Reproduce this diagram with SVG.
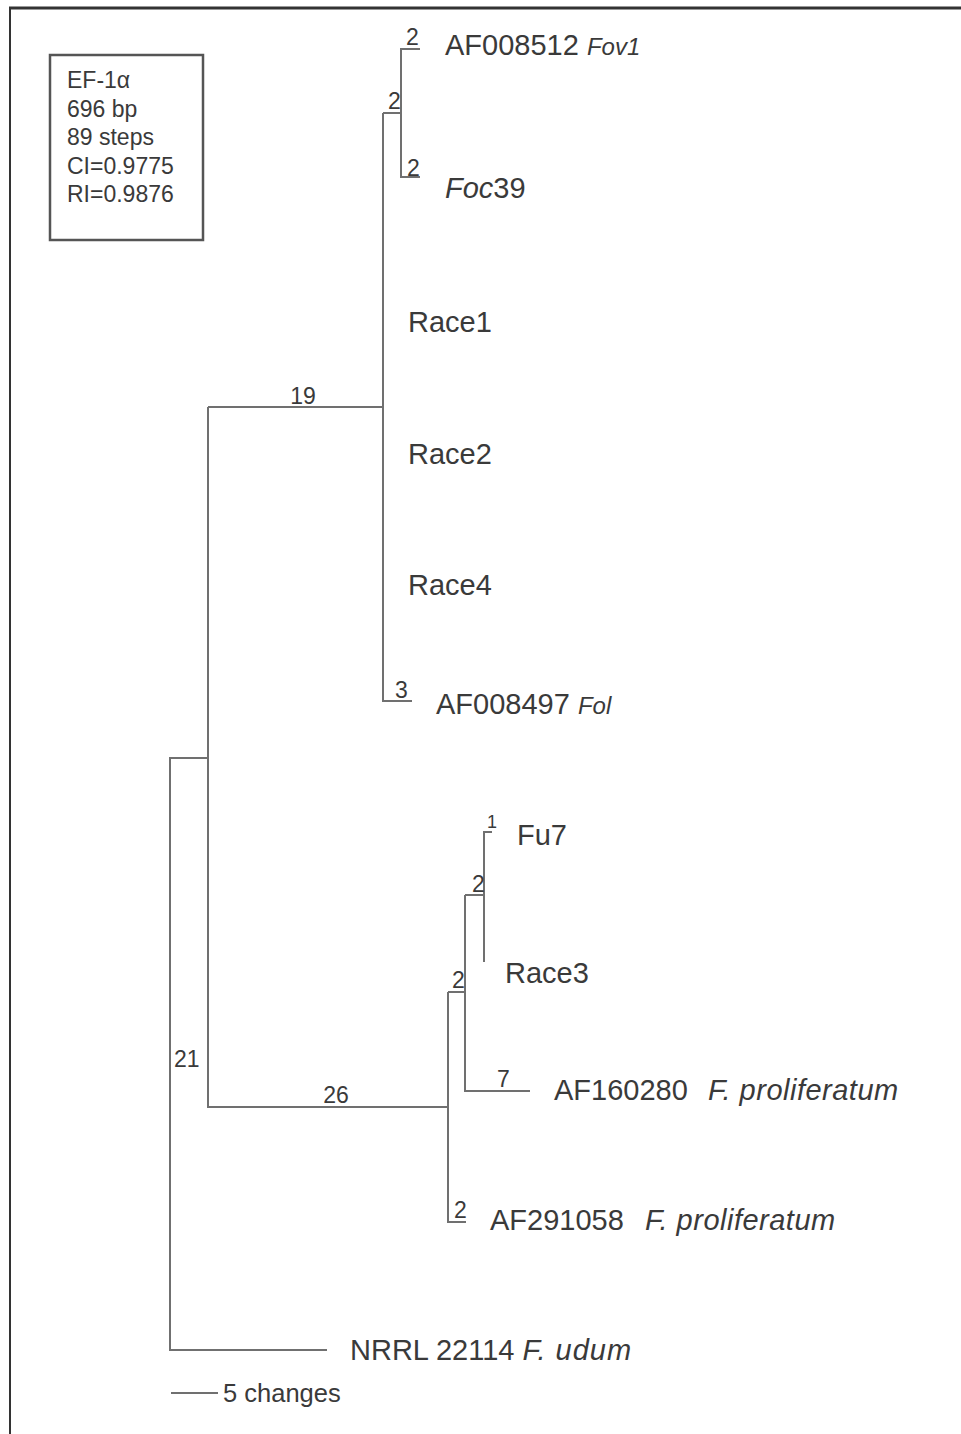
<svg xmlns="http://www.w3.org/2000/svg" width="961" height="1434" viewBox="0 0 961 1434">
<style>
  .t { font-family: "Liberation Sans", Arial, sans-serif; fill: #3a3a3a; }
  .lab { font-size: 29px; }
  .it { font-style: italic; }
  .wide { letter-spacing: 0.5px; }
  .num { font-size: 23px; }
  .leg { font-size: 23px; }
  .br { fill: none; stroke: #707070; stroke-width: 2; }
</style>
<rect width="961" height="1434" fill="#ffffff"/>
<g id="frame">
  <line x1="9" y1="8" x2="961" y2="8" stroke="#333" stroke-width="3"/>
  <line x1="10" y1="7" x2="10" y2="1434" stroke="#333" stroke-width="2"/>
</g>
<g id="legend">
  <rect x="50" y="55" width="153" height="185" fill="none" stroke="#555" stroke-width="2.5"/>
  <text class="t leg" x="67" y="88">EF-1α</text>
  <text class="t leg" x="67" y="116.5">696 bp</text>
  <text class="t leg" x="67" y="145">89 steps</text>
  <text class="t leg" x="67" y="173.5">CI=0.9775</text>
  <text class="t leg" x="67" y="202">RI=0.9876</text>
</g>
<g id="connectors">
  <path class="br" d="M420,49 H401 V177 H420"/>
  <path class="br" d="M401,113 H383"/>
  <path class="br" d="M383,113 V701 H412"/>
  <path class="br" d="M383,407 H208"/>
  <path class="br" d="M208,407 V1107 H448"/>
  <path class="br" d="M208,758 H170 V1350 H327"/>
  <path class="br" d="M448,992 V1222 H466"/>
  <path class="br" d="M448,992 H465"/>
  <path class="br" d="M465,895 V1091 H530"/>
  <path class="br" d="M465,895 H484"/>
  <path class="br" d="M484,962 V832 H492"/>
</g>
<g id="branch-labels">
  <text class="t num" x="406" y="45">2</text>
  <text class="t num" x="388" y="109">2</text>
  <text class="t num" x="407" y="176">2</text>
  <text class="t num" x="395" y="698">3</text>
  <text class="t num" x="303" y="404" text-anchor="middle">19</text>
  <text class="t num" x="174" y="1067">21</text>
  <text class="t num" x="336" y="1103" text-anchor="middle">26</text>
  <text class="t num" x="497" y="1087">7</text>
  <text class="t" x="487" y="828" font-size="18">1</text>
  <text class="t num" x="472" y="892">2</text>
  <text class="t num" x="452" y="988">2</text>
  <text class="t num" x="454" y="1218">2</text>
</g>
<g id="taxon-AF008512">
  <text class="t lab" x="445" y="55">AF008512 <tspan class="it" font-size="24">Fov1</tspan></text>
</g>
<g id="taxon-Foc39">
  <text class="t lab" x="445" y="198"><tspan class="it">Foc</tspan>39</text>
</g>
<g id="taxon-Race1">
  <text class="t lab" x="408" y="332">Race1</text>
</g>
<g id="taxon-Race2">
  <text class="t lab" x="408" y="464">Race2</text>
</g>
<g id="taxon-Race4">
  <text class="t lab" x="408" y="595">Race4</text>
</g>
<g id="taxon-AF008497">
  <text class="t lab" x="436" y="714">AF008497 <tspan class="it" font-size="24">Fol</tspan></text>
</g>
<g id="taxon-Fu7">
  <text class="t lab" x="517" y="845">Fu7</text>
</g>
<g id="taxon-Race3">
  <text class="t lab" x="505" y="983">Race3</text>
</g>
<g id="taxon-AF160280">
  <text class="t lab" x="554" y="1100">AF160280</text>
  <text class="t lab it wide" x="708" y="1100">F. proliferatum</text>
</g>
<g id="taxon-AF291058">
  <text class="t lab" x="490" y="1230">AF291058</text>
  <text class="t lab it wide" x="645" y="1230">F. proliferatum</text>
</g>
<g id="taxon-NRRL22114">
  <text class="t lab" x="350" y="1360" font-size="29.5">NRRL 22114 <tspan class="it" letter-spacing="1">F. udum</tspan></text>
</g>
<g id="scale">
  <line x1="171" y1="1393" x2="218" y2="1393" stroke="#707070" stroke-width="2"/>
  <text class="t" x="223" y="1402" font-size="25.5">5 changes</text>
</g>
</svg>
